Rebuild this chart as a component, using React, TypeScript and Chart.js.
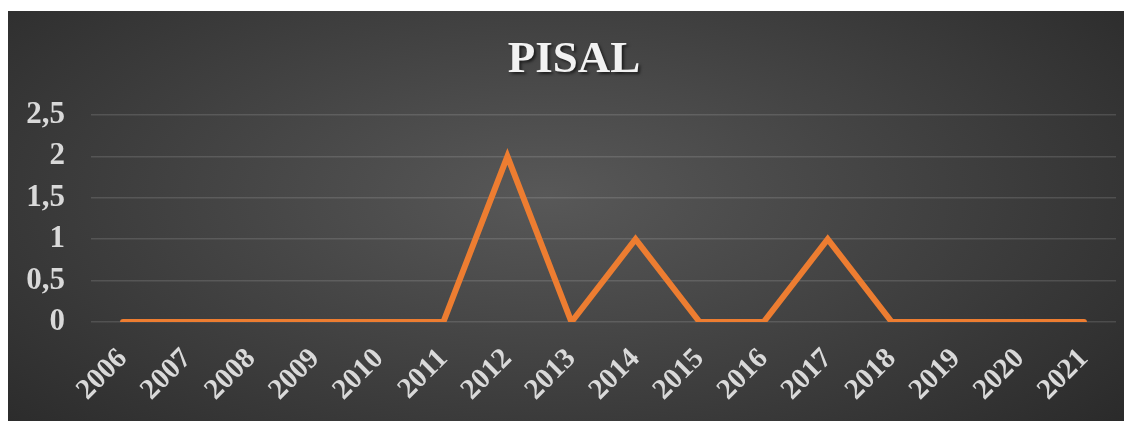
import React, { useEffect, useRef } from "react";
import { Chart, registerables } from "chart.js";

Chart.register(...registerables);

const TITLE = "PISAL";
const YEARS = ["2006", "2007", "2008", "2009", "2010", "2011", "2012", "2013", "2014", "2015", "2016", "2017", "2018", "2019", "2020", "2021"];
const VALUES = [0, 0, 0, 0, 0, 0, 2, 0, 1, 0, 0, 1, 0, 0, 0, 0];
const Y_TICKS = [0, 0.5, 1, 1.5, 2, 2.5];

const SERIF = "'Liberation Serif', 'Times New Roman', serif";

const titlePlugin = {
  id: "shadowTitle",
  afterDraw(chart: any) {
    const ctx = chart.ctx;
    ctx.save();
    ctx.font = `bold 45px ${SERIF}`;
    ctx.textAlign = "center";
    ctx.textBaseline = "alphabetic";
    ctx.shadowColor = "rgba(0,0,0,0.6)";
    ctx.shadowOffsetX = 2;
    ctx.shadowOffsetY = 2;
    ctx.shadowBlur = 3;
    ctx.fillStyle = "#f2f2f2";
    ctx.fillText(TITLE, 566, 61);
    ctx.restore();
  },
};

export default function App() {
  const ref = useRef<HTMLCanvasElement>(null);
  useEffect(() => {
    if (!ref.current) return;
    const chart = new Chart(ref.current, {
      type: "line",
      data: {
        labels: YEARS,
        datasets: [
          {
            data: VALUES,
            borderColor: "#ED7D31",
            borderWidth: 6,
            pointRadius: 0,
            borderCapStyle: "round",
            borderJoinStyle: "miter",
            tension: 0,
          },
        ],
      },
      options: {
        animation: false,
        responsive: false,
        maintainAspectRatio: false,
        layout: { padding: { top: 104, left: 0, right: 16, bottom: 0 } },
        plugins: { legend: { display: false }, title: { display: false }, tooltip: { enabled: false } },
        scales: {
          x: {
            offset: true,
            grid: { display: false, drawTicks: false },
            border: { display: false },
            ticks: {
              color: "#d9d9d9",
              font: { family: SERIF, size: 29, weight: "bold" },
              maxRotation: 45,
              minRotation: 45,
              padding: 20,
              autoSkip: false,
            },
            afterFit: (s: any) => {
              s.height = 99;
            },
          },
          y: {
            min: 0,
            max: 2.5,
            afterBuildTicks: (s: any) => {
              s.ticks = Y_TICKS.map((v) => ({ value: v }));
            },
            grid: { color: "rgba(255,255,255,0.13)", lineWidth: 1.5, drawTicks: false },
            border: { display: false },
            ticks: {
              color: "#d9d9d9",
              font: { family: SERIF, size: 31, weight: "bold" },
              padding: 26,
              callback: (v: any) => String(v).replace(".", ","),
            },
            afterFit: (s: any) => {
              s.width = 83;
            },
          },
        },
      },
      plugins: [titlePlugin],
    } as any);
    return () => chart.destroy();
  }, []);

  return (
    <div style={{ paddingTop: 3 }}>
      <div
        style={{
          width: 1124,
          height: 410,
          background: "radial-gradient(ellipse 75% 95% at 48% 45%, #585858 0%, #3c3c3c 55%, #252525 100%)",
        }}
      >
        <canvas ref={ref} width={1124} height={410} style={{ display: "block", width: 1124, height: 410 }} />
      </div>
    </div>
  );
}
